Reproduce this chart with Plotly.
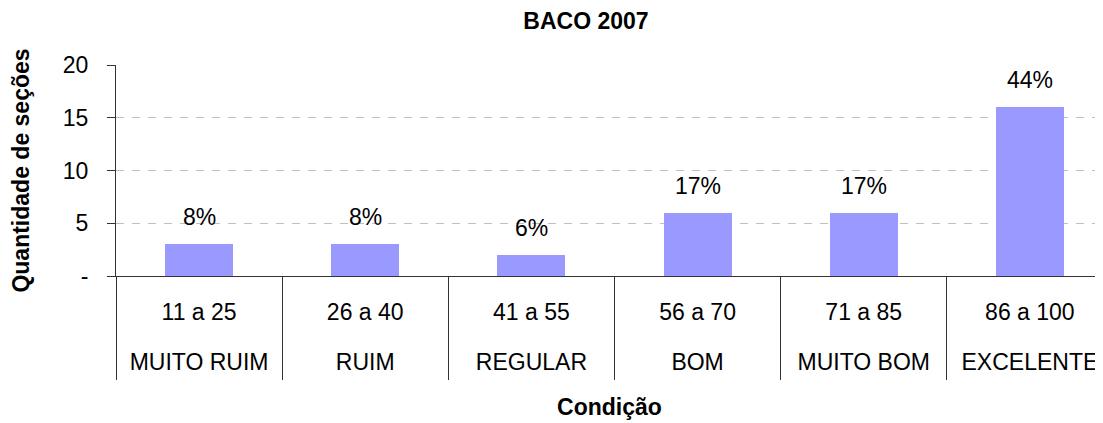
import plotly.graph_objects as go

categories = ["11 a 25", "26 a 40", "41 a 55", "56 a 70", "71 a 85", "86 a 100"]
conditions = ["MUITO RUIM", "RUIM", "REGULAR", "BOM", "MUITO BOM", "EXCELENTE"]
counts = [3, 3, 2, 6, 6, 16]
percent_labels = ["8%", "8%", "6%", "17%", "17%", "44%"]
y_tickvals = [0, 5, 10, 15, 20]
y_ticktext = ["-", "5", "10", "15", "20"]

FONT = "Arial, Liberation Sans, sans-serif"
FS = 23
n = len(categories)
xr = [-0.5, n - 0.5 - 0.06]
W, H = 1095, 415  # page body has an 8px default margin

fig = go.Figure()
fig.add_trace(go.Bar(
    x=list(range(n)), y=counts, width=0.41,
    marker=dict(color="#9999FF", line=dict(width=0)),
    showlegend=False, hoverinfo="skip",
))
fig.add_trace(go.Scatter(x=list(range(n)), y=counts, mode="markers",
                         marker=dict(opacity=0), xaxis="x2", showlegend=False, hoverinfo="skip"))
fig.add_trace(go.Scatter(x=list(range(n)), y=counts, mode="markers",
                         marker=dict(opacity=0), xaxis="x3", showlegend=False, hoverinfo="skip"))

for i, (c, t) in enumerate(zip(counts, percent_labels)):
    fig.add_annotation(x=i, y=c, xref="x", yref="y", text=t, showarrow=False,
                       yanchor="middle", yshift=27,
                       font=dict(family=FONT, size=FS, color="black"))

fig.update_layout(
    width=W, height=H,
    margin=dict(l=108, r=0, t=57, b=147, autoexpand=False),
    plot_bgcolor="white", paper_bgcolor="white",
    font=dict(family=FONT, size=FS, color="black"),
    bargap=0,
    title=dict(text="<b>BACO 2007</b>", x=578 / W, xref="container", xanchor="center",
               y=1 - 13 / H, yref="container", yanchor="middle",
               font=dict(family=FONT, size=FS, color="black")),
    xaxis=dict(
        range=xr, tickvals=list(range(n)), ticktext=categories, ticks="",
        showline=True, linecolor="#333333", linewidth=1, showgrid=False, zeroline=False,
        automargin=False,
        ticklabelstandoff=15, tickfont=dict(family=FONT, size=FS, color="black"),
        title=dict(text="<b>Condição</b>", standoff=75, font=dict(family=FONT, size=FS, color="black")),
    ),
    xaxis2=dict(
        overlaying="x", anchor="y", side="bottom", range=xr,
        tickvals=list(range(n)), ticktext=conditions, ticks="",
        showline=False, showgrid=False, zeroline=False, automargin=False,
        ticklabelstandoff=70, tickfont=dict(family=FONT, size=FS, color="black"),
    ),
    xaxis3=dict(
        overlaying="x", anchor="y", side="bottom", range=xr,
        tickvals=[i - 0.5 for i in range(n + 1)], ticks="outside", ticklen=103,
        tickcolor="#333333", tickwidth=1, showticklabels=False, automargin=False,
        showline=False, showgrid=False, zeroline=False,
    ),
    yaxis=dict(
        range=[0, 20], tickvals=y_tickvals, ticktext=y_ticktext,
        ticks="outside", ticklen=8, tickcolor="#333333",
        showline=True, linecolor="#333333", linewidth=1,
        showgrid=True, gridcolor="#BFBFBF", griddash="8px,8px", gridwidth=1,
        zeroline=False, ticklabelstandoff=14, automargin=False,
        tickfont=dict(family=FONT, size=FS, color="black"),
        title=dict(text="<b>Quantidade de seções</b>", standoff=28,
                   font=dict(family=FONT, size=FS, color="black")),
    ),
)

fig.write_html("out.html")
